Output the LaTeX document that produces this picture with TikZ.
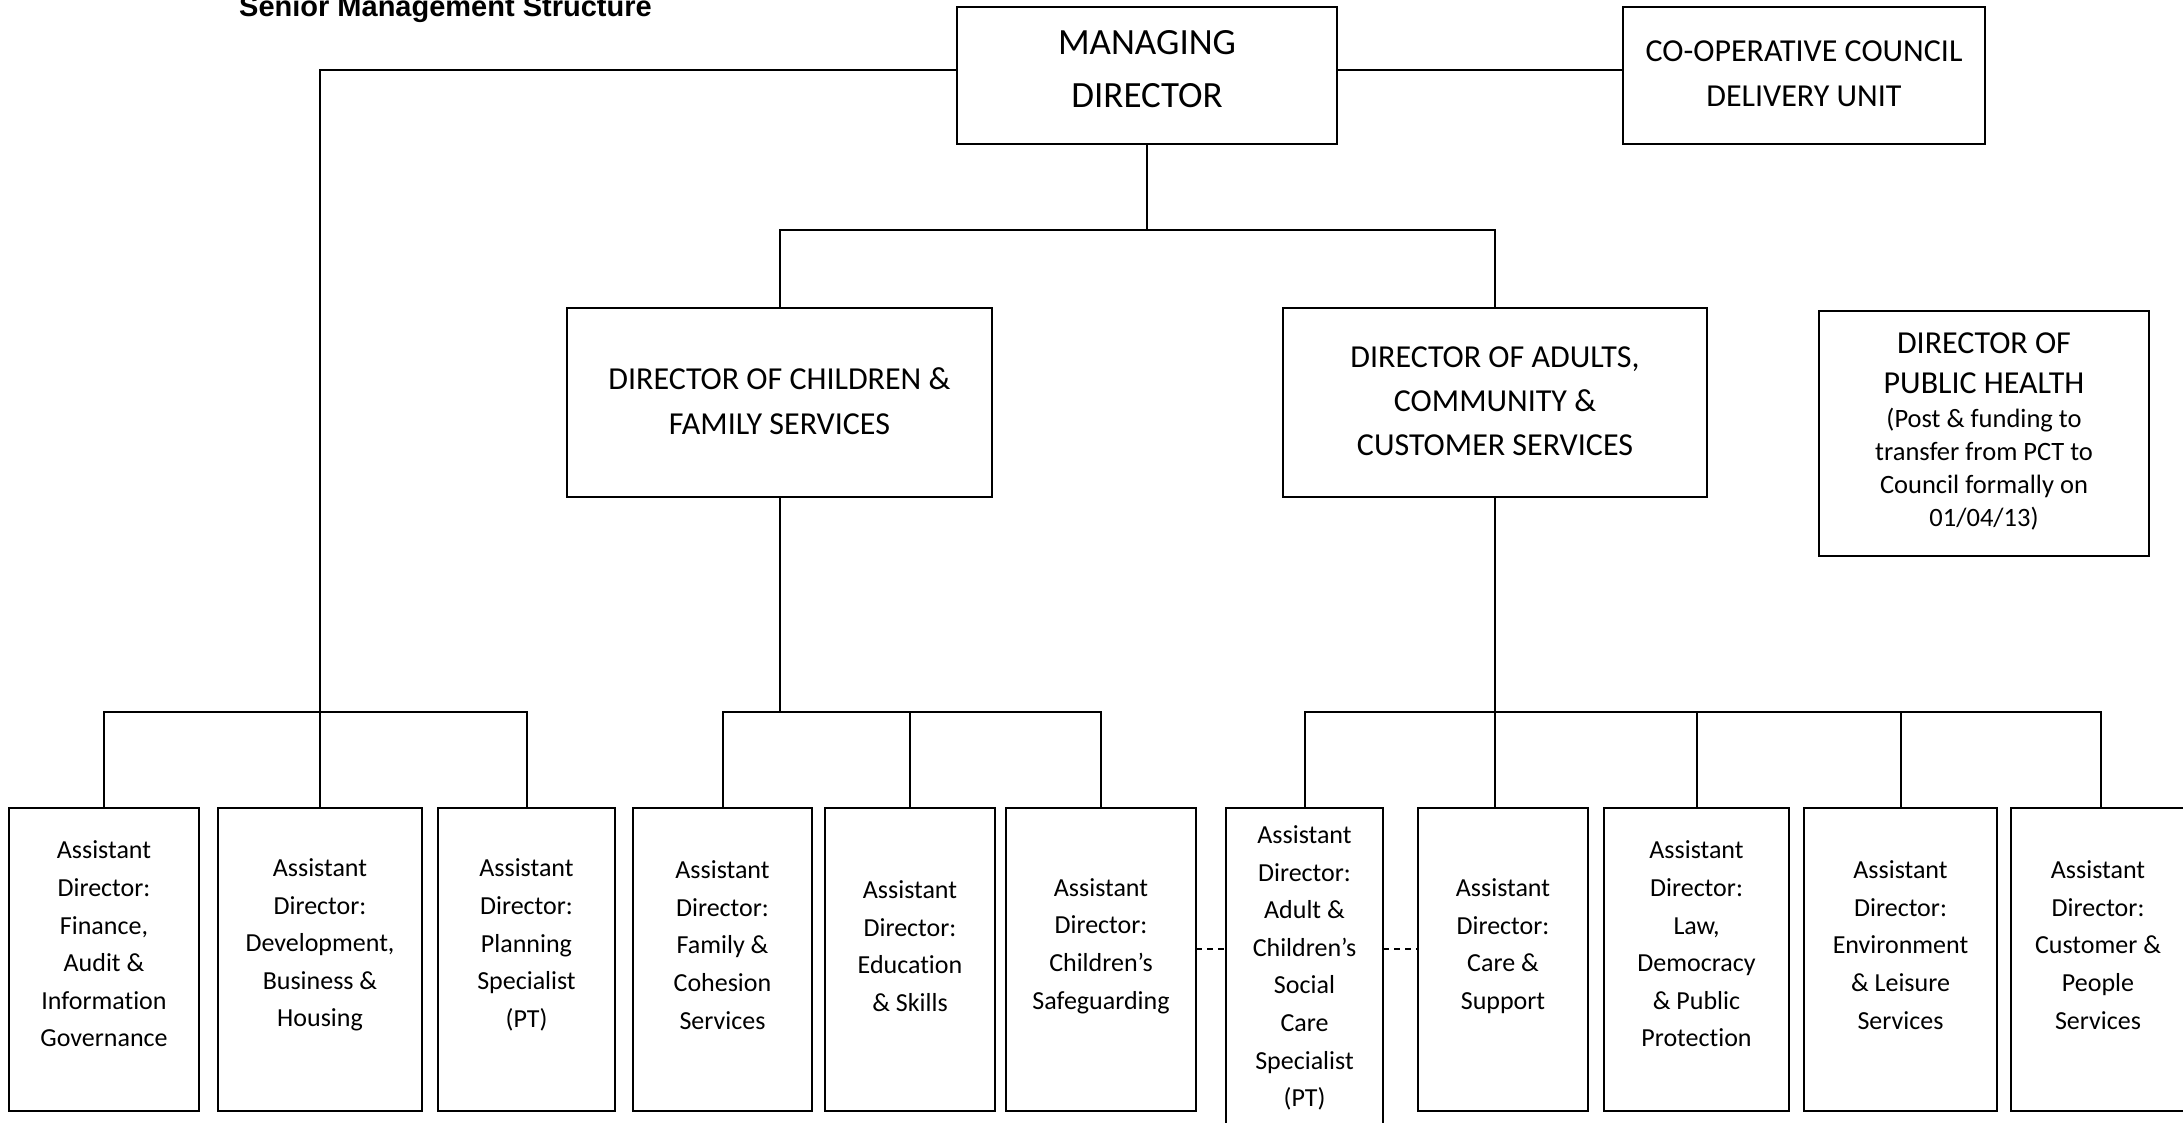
\documentclass[tikz,border=0pt]{standalone}
\usepackage{fontspec}
\setmainfont{Carlito}[Ligatures=NoCommon]
\newfontfamily\titlefont{Liberation Sans}
\begin{document}
\begin{tikzpicture}[x=1pt,y=-1pt,
  box/.style={draw, rectangle, line width=2pt, inner sep=0pt, outer sep=0pt},
  bottombox/.style={box, minimum height=303pt},
  smalltxt/.style={align=center, inner sep=0pt, font=\fontsize{26}{37.6}\selectfont},
  bigtxt/.style={align=center, inner sep=0pt, font=\fontsize{32}{45}\selectfont},
  mdtxt/.style={align=center, inner sep=0pt, font=\fontsize{37}{53}\selectfont},
  conn/.style={line width=2pt},
  dashconn/.style={line width=2pt, dash pattern=on 6pt off 5pt}]
\useasboundingbox (0,0) rectangle (2183,1122);

% title
\node[anchor=base west, inner sep=0pt, font=\titlefont\bfseries\fontsize{29}{34}\selectfont] (title) at (239,16) {Senior Management Structure};

% top boxes
\node[box, minimum width=380pt, minimum height=137pt] (md) at (1147,75.5) {};
\node[mdtxt] (tmd) at (1147,69.5) {MANAGING\\DIRECTOR};
\node[box, minimum width=362pt, minimum height=137pt] (coop) at (1804,75.5) {};
\node[bigtxt] (tcoop) at (1804,73.5) {CO-OPERATIVE COUNCIL\\DELIVERY UNIT};

% directors
\node[box, minimum width=425pt, minimum height=189pt] (dcf) at (779.5,402.5) {};
\node[bigtxt] (tdcf) at (779.5,401) {DIRECTOR OF CHILDREN \&\\FAMILY SERVICES};
\node[box, minimum width=424pt, minimum height=189pt] (dac) at (1495,402.5) {};
\node[bigtxt, font=\fontsize{32}{44}\selectfont] (tdac) at (1495,401) {DIRECTOR OF ADULTS,\\COMMUNITY \&\\CUSTOMER SERVICES};
\node[box, minimum width=330pt, minimum height=245pt] (dph) at (1984,433.5) {};
\node[bigtxt, font=\fontsize{32}{40}\selectfont] (tdph1) at (1984,363) {DIRECTOR OF\\PUBLIC HEALTH};
\node[smalltxt, font=\fontsize{26.5}{33}\selectfont] (tdph2) at (1984,469) {(Post \& funding to\\transfer from PCT to\\Council formally on\\01/04/13)};

% bottom row
\node[bottombox, minimum width=190pt] (fin) at (104,959.5) {};
\node[smalltxt] (tfin) at (104,944) {Assistant\\Director:\\Finance,\\Audit \&\\Information\\Governance};
\node[bottombox, minimum width=204pt] (dev) at (320,959.5) {};
\node[smalltxt] (tdev) at (320,945) {Assistant\\Director:\\Development,\\Business \&\\Housing};
\node[bottombox, minimum width=177pt] (plan) at (526.5,959.5) {};
\node[smalltxt] (tplan) at (526.5,945) {Assistant\\Director:\\Planning\\Specialist\\(PT)};
\node[bottombox, minimum width=179pt] (fam) at (722.5,959.5) {};
\node[smalltxt] (tfam) at (722.5,945) {Assistant\\Director:\\Family \&\\Cohesion\\Services};
\node[bottombox, minimum width=170pt] (edu) at (910,959.5) {};
\node[smalltxt] (tedu) at (910,946) {Assistant\\Director:\\Education\\\& Skills};
\node[bottombox, minimum width=190pt] (saf) at (1101,959.5) {};
\node[smalltxt] (tsaf) at (1101,946) {Assistant\\Director:\\Children’s\\Safeguarding};
\node[box, minimum width=157pt, minimum height=332pt] (acs) at (1304.5,974) {};
\node[smalltxt] (tacs) at (1304.5,968) {Assistant\\Director:\\Adult \&\\Children’s\\Social\\Care\\Specialist\\(PT)};
\node[bottombox, minimum width=170pt] (care) at (1503,959.5) {};
\node[smalltxt] (tcare) at (1503,946) {Assistant\\Director:\\Care \&\\Support};
\node[bottombox, minimum width=185pt] (law) at (1696.5,959.5) {};
\node[smalltxt] (tlaw) at (1696.5,944) {Assistant\\Director:\\Law,\\Democracy\\\& Public\\Protection};
\node[bottombox, minimum width=193pt] (env) at (1900.5,959.5) {};
\node[smalltxt] (tenv) at (1900.5,945) {Assistant\\Director:\\Environment\\\& Leisure\\Services};
\node[bottombox, minimum width=180pt] (cust) at (2101,959.5) {};
\node[smalltxt] (tcust) at (2098,945) {Assistant\\Director:\\Customer \&\\People\\Services};

% bus coordinates
\coordinate (topbus) at (1147,230);
\coordinate (lbus) at (317,712);
\coordinate (cbus) at (780,712);
\coordinate (abus) at (1498,712);
\coordinate (dl) at (0,949);

% connectors
\draw[conn] ([yshift=6pt]md.east) -- ([yshift=6pt]coop.west);
\draw[conn] ([yshift=6pt]md.west) -| (dev.north);
\draw[conn] (md.south) -- (topbus);
\draw[conn] (dcf.north) |- (topbus) -| (dac.north);

\draw[conn] (fin.north) -- (fin.north |- lbus) -- (plan.north |- lbus) -- (plan.north);

\draw[conn] (dcf.south) -- (dcf.south |- cbus);
\draw[conn] (fam.north) -- (fam.north |- cbus) -- (saf.north |- cbus) -- (saf.north);
\draw[conn] (edu.north) -- (edu.north |- cbus);

\draw[conn] (dac.south) -- (dac.south |- care.north);
\draw[conn] (acs.north) -- (acs.north |- abus) -- (cust.north |- abus) -- (cust.north);
\draw[conn] (law.north) -- (law.north |- abus);
\draw[conn] (env.north) -- (env.north |- abus);

\draw[dashconn] (saf.east |- dl) -- (acs.west |- dl);
\draw[dashconn] (acs.east |- dl) -- (care.west |- dl);
\end{tikzpicture}
\end{document}
